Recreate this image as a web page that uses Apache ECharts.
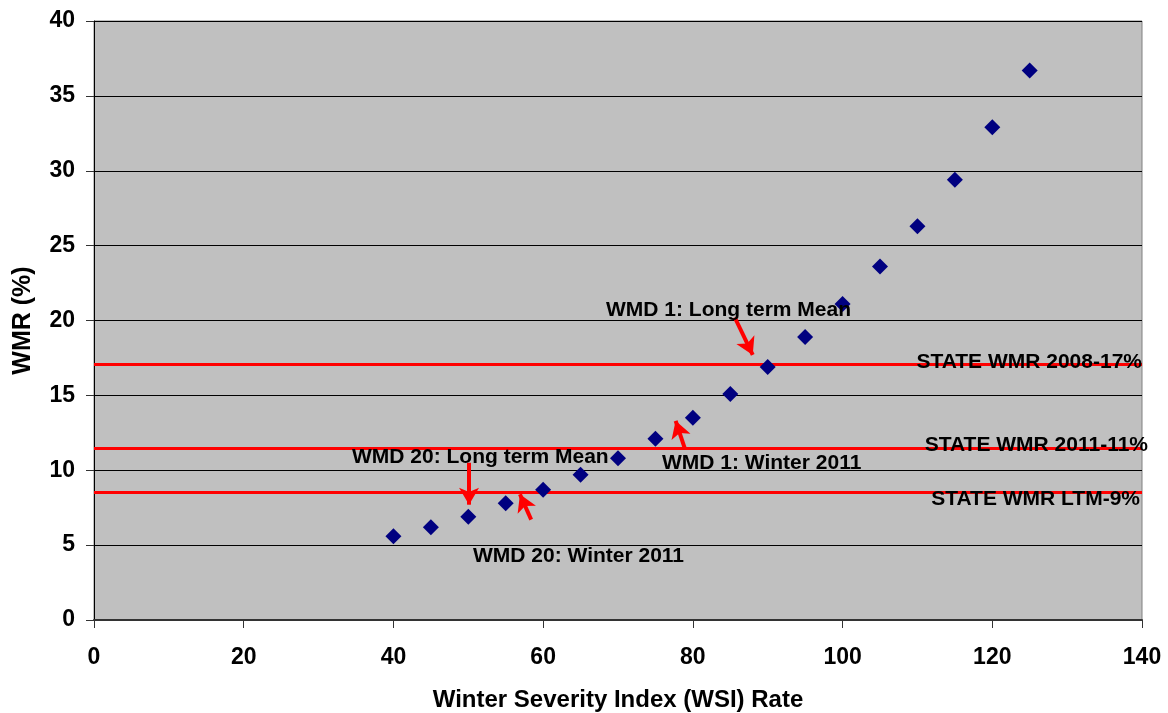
<!DOCTYPE html>
<html><head><meta charset="utf-8">
<script src="https://cdn.jsdelivr.net/npm/echarts@6/dist/echarts.min.js"></script>
<style>html,body{margin:0;padding:0;background:#fff}#c{width:1168px;height:713px}</style>
</head><body><div id="c"></div>
<script>
const wsi = [40,45,50,55,60,65,70,75,80,85,90,95,100,105,110,115,120,125];
const wmr = [5.6,6.2,6.9,7.8,8.7,9.7,10.8,12.1,13.5,15.1,16.9,18.9,21.1,23.6,26.3,29.4,32.9,36.7];
const stateLevels = [17.1, 11.5, 8.5];
const stateLabels = ['STATE WMR 2008-17%','STATE WMR 2011-11%','STATE WMR LTM-9%'];
const arrows = [
  [[50.1,10.5],[50.1,7.7]],
  [[58.4,6.7],[56.9,8.4]],
  [[78.9,11.5],[77.7,13.3]],
  [[85.6,20.2],[88.0,17.7]]
];
const annotTexts = ['WMD 20: Long term Mean','WMD 20: Winter 2011','WMD 1: Winter 2011','WMD 1: Long term Mean'];

const chart = echarts.init(document.getElementById('c'));
const font = 'Liberation Sans, Arial, sans-serif';
const txt = (t, x, y, align) => ({type:'text', x:x, y:y, z:10,
  style:{text:t, font:'bold 21px '+font, fill:'#000', textAlign:align||'left', textVerticalAlign:'middle'}});
chart.setOption({
  backgroundColor:'#fff',
  animation:false,
  grid:{left:94, right:26, top:21, bottom:93, containLabel:false, outerBoundsMode:'none',
    backgroundColor:'#c0c0c0', show:true, borderColor:'#808080', borderWidth:1},
  xAxis:{type:'value', min:0, max:140, interval:20,
    name:'Winter Severity Index (WSI) Rate', nameLocation:'middle', nameGap:68,
    nameTextStyle:{fontFamily:font, fontWeight:'bold', fontSize:24, color:'#000'},
    axisLine:{lineStyle:{color:'#333', width:2}},
    axisTick:{show:true, length:8, lineStyle:{color:'#333'}},
    axisLabel:{fontFamily:font, fontWeight:'bold', fontSize:23, color:'#000', margin:26},
    splitLine:{show:false}},
  yAxis:{type:'value', min:0, max:40, interval:5,
    name:'WMR (%)', nameLocation:'middle', nameGap:58, nameRotate:90,
    nameTextStyle:{fontFamily:font, fontWeight:'bold', fontSize:25, color:'#000'},
    axisLine:{show:true, lineStyle:{color:'#000', width:1}},
    axisTick:{show:true, length:8, lineStyle:{color:'#333'}},
    axisLabel:{fontFamily:font, fontWeight:'bold', fontSize:23, color:'#000', margin:19},
    splitLine:{show:true, lineStyle:{color:'#000', width:1}}},
  series:[
    {type:'scatter', symbol:'diamond', symbolSize:16, itemStyle:{color:'#000080', opacity:1},
     data: wsi.map((x,i)=>[x, wmr[i]]), z:3,
     markLine:{silent:true, symbol:'none', z:2,
       lineStyle:{color:'#ff0000', width:3, type:'solid'},
       label:{show:false},
       data: stateLevels.map(v=>({yAxis:v}))}},
    {type:'scatter', data:[], z:4,
     markLine:{silent:true, symbol:['none','arrow'], symbolSize:[15,17], z:4,
       lineStyle:{color:'#ff0000', width:4, type:'solid', opacity:1},
       label:{show:false},
       data: arrows.map(a=>[{coord:a[0]},{coord:a[1]}])}}
  ],
  graphic:[
    txt(annotTexts[0], 352, 457),
    txt(annotTexts[1], 473, 556),
    txt(annotTexts[2], 662, 463),
    txt(annotTexts[3], 606, 310),
    txt(stateLabels[0], 1142, 362, 'right'),
    txt(stateLabels[1], 1148, 445, 'right'),
    txt(stateLabels[2], 1140, 499, 'right')
  ]
});
</script></body></html>
